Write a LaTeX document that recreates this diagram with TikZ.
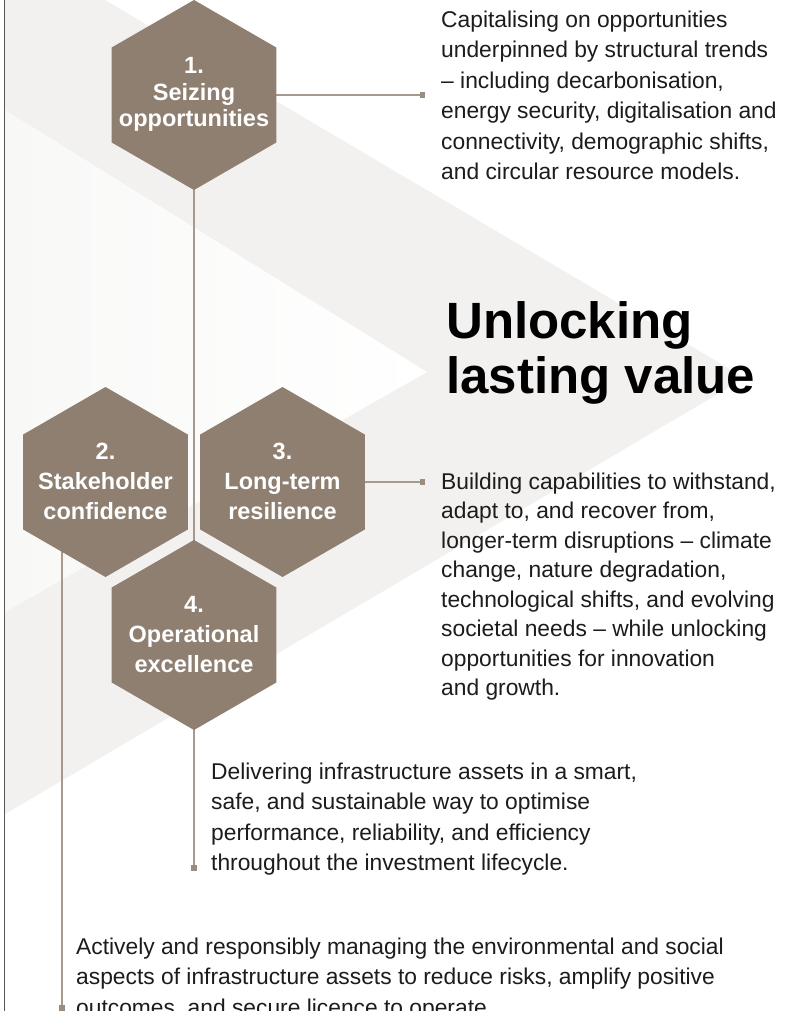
\documentclass[tikz,border=0pt]{standalone}
\usepackage{fontspec}
\setmainfont{Liberation Sans}
\usetikzlibrary{shapes.geometric}
\pgfdeclarelayer{back}
\pgfdeclarelayer{mid}
\pgfsetlayers{back,mid,main}
\definecolor{taupe}{HTML}{8E7F71}
\definecolor{linktone}{HTML}{A69A8C}
\definecolor{tiptone}{HTML}{9A8D7F}
\definecolor{bandgray}{HTML}{F3F1EF}
\definecolor{softwhite}{HTML}{F8F8F7}
\definecolor{inktext}{HTML}{1C1C1C}
\definecolor{edgegray}{HTML}{555555}

\begin{document}
\begin{tikzpicture}[x=1pt,y=-1pt,
  hexa/.style={regular polygon, regular polygon sides=6, shape border rotate=30,
    minimum size=190pt, inner sep=0pt, outer sep=0pt, fill=taupe, draw=none},
  hexlabel/.style={anchor=base, inner sep=0pt, text=white,
    font=\bfseries\fontsize{23.5}{30}\selectfont},
  body/.style={anchor=base west, inner sep=0pt, text=inktext,
    font=\fontsize{22.8}{30.5}\selectfont},
  headline/.style={anchor=base west, inner sep=0pt, text=black,
    font=\bfseries\fontsize{51}{55}\selectfont},
  link/.style={draw=linktone, line width=1.2pt},
  tipbox/.style={rectangle, fill=tiptone, minimum size=5.5pt, inner sep=0pt, outer sep=0pt}
]
\useasboundingbox (0,0) rectangle (792,1011);
\clip (0,0) rectangle (792,1011);

% background chevrons
\begin{pgfonlayer}{back}
  \fill[white] (0,0) rectangle (792,1011);
  \fill[bandgray] (0,0) -- (105,0) -- (745,378) -- (0,817) -- cycle;
  \shade[left color=softwhite, right color=white] (0,107) -- (427,372) -- (0,615) -- cycle;
  \fill[white] (0,0) rectangle (4,1011);
  \draw[edgegray, line width=1.1pt] (4.5,0) -- (4.5,1011);
\end{pgfonlayer}

% hexagons
\node[hexa] (h1) at (194,95) {};
\node[hexa] (h2) at (105.5,482) {};
\node[hexa] (h3) at (282.5,482) {};
\node[hexa] (h4) at (194,635) {};

\node[hexlabel, font=\bfseries\fontsize{23.5}{26.5}\selectfont] (h1t) at (194,74) {\parbox[t]{170pt}{\centering 1.\\Seizing\\opportunities}};
\node[hexlabel] (h2t) at (105.5,459.5) {\parbox[t]{170pt}{\centering 2.\\Stakeholder\\confidence}};
\node[hexlabel] (h3t) at (282.5,459.5) {\parbox[t]{170pt}{\centering 3.\\Long-term\\resilience}};
\node[hexlabel] (h4t) at (194,612.5) {\parbox[t]{170pt}{\centering 4.\\Operational\\excellence}};

% connector end markers
\node[tipbox] (s1) at (422.5,95) {};
\node[tipbox] (s3) at (422.5,482) {};
\node[tipbox] (s4) at (194,868) {};
\node[tipbox] (s2) at (62,1008) {};

% connectors, kept under the hexagons
\begin{pgfonlayer}{mid}
  \draw[link] (h1.center) -- (s1);
  \draw[link] (h1.center) -- (h4.center);
  \draw[link] (h3.center) -- (s3);
  \draw[link] (h4.center) -- (s4);
  \draw[link] (h2.center -| s2) -- (s2);
\end{pgfonlayer}

% headline
\node[headline] (title) at (446,338) {\parbox[t]{340pt}{Unlocking\\lasting value}};

% descriptions
\node[body] (p1) at (441,27.5) {\parbox[t]{350pt}{\raggedright
Capitalising on opportunities\\
underpinned by structural trends\\
– including decarbonisation,\\
energy security, digitalisation and\\
connectivity, demographic shifts,\\
and circular resource models.}};

\node[body, font=\fontsize{22.8}{29.5}\selectfont] (p3) at (441,489) {\parbox[t]{350pt}{\raggedright
Building capabilities to withstand,\\
adapt to, and recover from,\\
longer-term disruptions – climate\\
change, nature degradation,\\
technological shifts, and evolving\\
societal needs – while unlocking\\
opportunities for innovation\\
and growth.}};

\node[body] (p4) at (211,779) {\parbox[t]{450pt}{\raggedright
Delivering infrastructure assets in a smart,\\
safe, and sustainable way to optimise\\
performance, reliability, and efficiency\\
throughout the investment lifecycle.}};

\node[body] (p2) at (76,954) {\parbox[t]{700pt}{\raggedright
Actively and responsibly managing the environmental and social\\
aspects of infrastructure assets to reduce risks, amplify positive\\
outcomes, and secure licence to operate.}};

\end{tikzpicture}
\end{document}
